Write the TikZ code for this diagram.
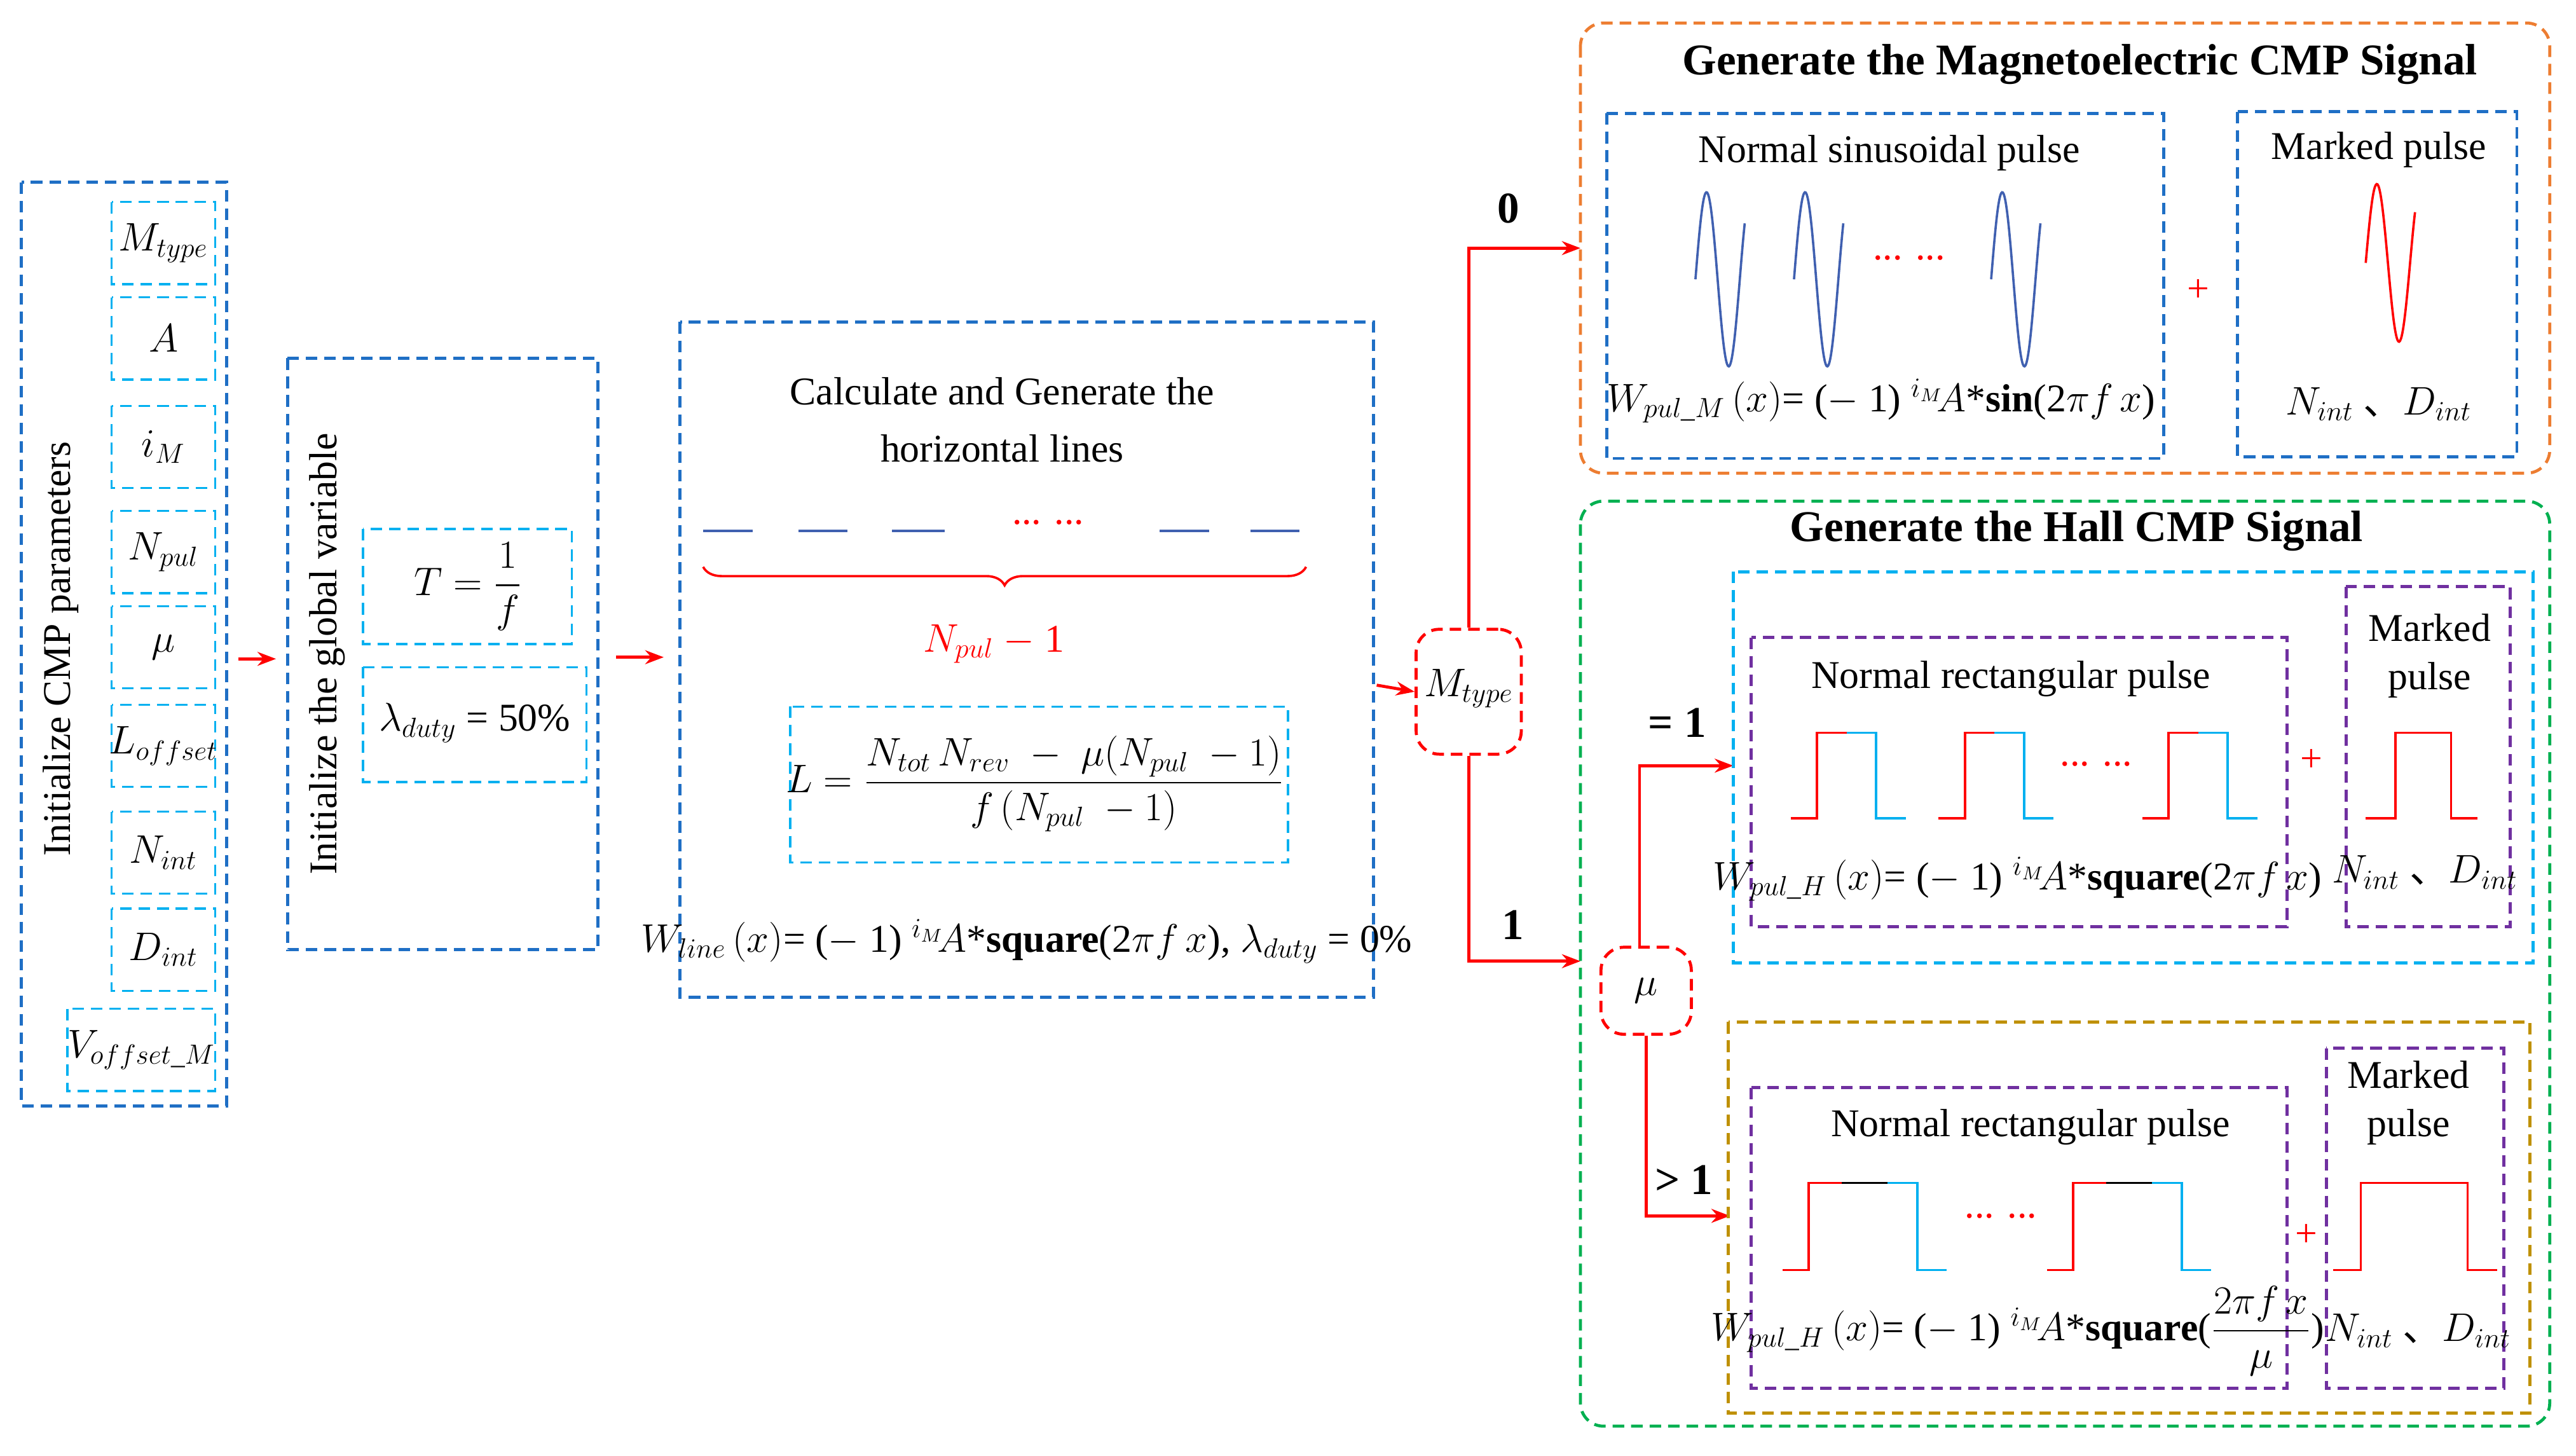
\documentclass[tikz,border=0pt]{standalone}
\usepackage{amsmath}
\usepackage{fontspec}
\setmainfont{Liberation Serif}
\newfontfamily\cjk{Noto Sans CJK SC}
\newcommand{\dun}{{\cjk 、}}
\usetikzlibrary{arrows.meta,decorations.pathreplacing}
\definecolor{bl}{HTML}{1F6FC5}\definecolor{cy}{HTML}{00B0F0}\definecolor{og}{HTML}{ED7D31}
\definecolor{gr}{HTML}{00B050}\definecolor{pu}{HTML}{7030A0}\definecolor{gd}{HTML}{BF9000}
\definecolor{wv}{HTML}{4060B0}
\begin{document}
\begin{tikzpicture}[x=0.025cm,y=-0.025cm,
 box/.style={draw=#1,dashed,line width=1.3pt,dash pattern=on 5pt off 3pt},
 rbox/.style={draw=#1,dashed,line width=1.3pt,rounded corners=10pt,dash pattern=on 5pt off 3pt},
 t/.style={font=\fontsize{17}{20}\selectfont,inner sep=0pt},
 tb/.style={font=\fontsize{19}{22}\selectfont\bfseries,inner sep=0pt},
 ar/.style={red,line width=1.3pt,-{Stealth[length=8pt]}},
 rl/.style={red,line width=1pt},bw/.style={cy,line width=1pt}]
\useasboundingbox (0,0) rectangle (1568,886);
% left column
\draw[box=bl] (13,111) rectangle (138,673);
\node[t,rotate=90] at (37,395) {Initialize CMP parameters};
\foreach \a/\b/\l in {123/173/{$M_{type}$},181/231/{$A$},247/297/{$i_M$},311/361/{$N_{pul}$},369/419/{$\mu$},429/479/{$L_{offset}$},494/544/{$N_{int}$},553/603/{$D_{int}$}}{
 \draw[box=cy,line width=0.9pt] (68,\a) rectangle (131,\b);
 \node[t] at (99.5,{(\a+\b)/2}) {\l};}
\draw[box=cy,line width=0.9pt] (41,614) rectangle (131,664);
\node[t] at (86,639) {$V_{offset\_M}$};
% box 2
\coordinate (c1) at (145,401); \coordinate (c2) at (168,401);
\draw[ar] (c1) -- (c2);
\draw[box=bl] (175,218) rectangle (364,578);
\node[t,rotate=90] at (199,398) {Initialize the global variable};
\draw[box=cy,line width=0.9pt] (221,322) rectangle (348,392);
\node[t] at (285,357) {$T=\dfrac{1}{f}$};
\draw[box=cy,line width=0.9pt] (221,406) rectangle (357,476);
\node[t] at (289,440) {$\lambda_{duty}$ = 50\%};
\coordinate (c3) at (375,400); \coordinate (c4) at (404,400);
\draw[ar] (c3) -- (c4);
% box 3
\draw[box=bl] (414,196) rectangle (836,607);
\node[t] at (610,238) {Calculate and Generate the};
\node[t] at (610,273) {horizontal lines};
\foreach \a/\b in {428/458,486/516,543/575,706/736,761/791} \draw[wv,line width=1pt] (\a,323)--(\b,323);
\node[t,red] at (638,318) {... ...};
\draw[red,line width=1pt,decorate,decoration={brace,mirror,amplitude=8pt}] (428,345) -- (795,345);
\node[t,red] at (605,392) {$N_{pul}$ $-$ 1};
\draw[box=cy,line width=0.9pt] (481,430) rectangle (784,525);
\node[t] at (630,477) {$L=\dfrac{N_{tot}\,N_{rev}\;-\;\mu(N_{pul}\;-1)}{f\,(N_{pul}\;-1)}$};
\node[t] at (625,573) {$W_{line}\,(x)$= ($-$ 1) $^{i_M}\!A$*\textbf{square}(2$\pi f\,x$), $\lambda_{duty}$ = 0\%};
\coordinate (c5) at (838,417);
\node[rbox=red,minimum width=64*0.025cm,minimum height=76*0.025cm,inner sep=0pt] (mt) at (894,421) {};
\node[t] at (894,419) {$M_{type}$};
\draw[ar] (c5) -- (mt.west);
% magnetoelectric
\draw[rbox=og] (962,14) rectangle (1552,288);
\node[tb] at (1266,39) {Generate the Magnetoelectric CMP Signal};
\coordinate (me) at (962,151);
\draw[ar] (mt.north) |- (me);
\node[tb] at (918,127) {0};
\draw[box=bl] (978,69) rectangle (1317,279);
\node[t] at (1150,93) {Normal sinusoidal pulse};
\foreach \c in {1045,1105,1225}
 \draw[wv,line width=1pt,domain=0:400,samples=60,smooth] plot ({\c-13+\x/400*30},{170-53*sin(\x)});
\node[t,red] at (1162,157) {... ...};
\node[t] at (1145,244) {$W_{pul\_M}\,(x)$= ($-$ 1) $^{i_M}\!A$*\textbf{sin}(2$\pi f\,x$)};
\node[t,red] at (1338,177) {+};
\draw[box=bl] (1362,68) rectangle (1532,278);
\node[t] at (1448,91) {Marked pulse};
\draw[red,line width=1pt,domain=0:400,samples=60,smooth] plot ({1440+\x/400*30},{160-48*sin(\x)});
\node[t] at (1448,246) {$N_{int}$ \dun$D_{int}$};
% hall
\draw[rbox=gr] (962,305) rectangle (1552,868);
\node[tb] at (1264,323) {Generate the Hall CMP Signal};
\node[rbox=red,minimum width=55*0.025cm,minimum height=53*0.025cm,inner sep=0pt] (mu) at (1002,603) {};
\node[t] at (1002,603) {$\mu$};
\coordinate (ha) at (962,585);
\draw[ar] (mt.south) |- (ha);
\node[tb] at (921,563) {1};
\coordinate (h1) at (1055,466); \coordinate (h2) at (1053,740);
\draw[ar] (998,577) |- (h1);
\draw[ar] (mu.south) |- (h2);
\node[tb] at (1021,440) {= 1};
\node[tb] at (1025,718) {> 1};
\draw[box=cy] (1055,348) rectangle (1542,586);
\draw[box=pu] (1066,388) rectangle (1392,564);
\node[t] at (1224,413) {Normal rectangular pulse};
\foreach \s in {1090,1180,1304}{
 \draw[rl] (\s,498) -- (\s+16,498) -- (\s+16,446) -- (\s+34,446);
 \draw[bw] (\s+34,446) -- (\s+52,446) -- (\s+52,498) -- (\s+70,498);}
\node[t,red] at (1276,465) {... ...};
\node[t] at (1228,535) {$W_{pul\_H}\,(x)$= ($-$ 1) $^{i_M}\!A$*\textbf{square}(2$\pi f\,x$)};
\node[t,red] at (1407,463) {+};
\draw[box=pu] (1428,357) rectangle (1528,564);
\node[t] at (1479,382) {Marked}; \node[t] at (1479,414) {pulse};
\draw[rl] (1440,498) -- (1458,498) -- (1458,446) -- (1492,446) -- (1492,498) -- (1508,498);
\node[t] at (1476,531) {$N_{int}$ \dun$D_{int}$};
\draw[box=gd] (1052,622) rectangle (1540,860);
\draw[box=pu] (1066,662) rectangle (1392,845);
\node[t] at (1236,686) {Normal rectangular pulse};
\foreach \s in {1085,1246}{
 \draw[rl] (\s,773) -- (\s+16,773) -- (\s+16,720) -- (\s+36,720);
 \draw[black,line width=1pt] (\s+36,720) -- (\s+64,720);
 \draw[bw] (\s+64,720) -- (\s+82,720) -- (\s+82,773) -- (\s+100,773);}
\node[t,red] at (1218,740) {... ...};
\node[t] at (1228,810) {$W_{pul\_H}\,(x)$= ($-$ 1) $^{i_M}\!A$*\textbf{square}($\dfrac{2\pi f\,x}{\mu}$)};
\node[t,red] at (1404,752) {+};
\draw[box=pu] (1416,638) rectangle (1524,845);
\node[t] at (1466,654) {Marked}; \node[t] at (1466,686) {pulse};
\draw[rl] (1420,773) -- (1437,773) -- (1437,720) -- (1502,720) -- (1502,773) -- (1520,773);
\node[t] at (1472,810) {$N_{int}$ \dun$D_{int}$};
\end{tikzpicture}
\end{document}
